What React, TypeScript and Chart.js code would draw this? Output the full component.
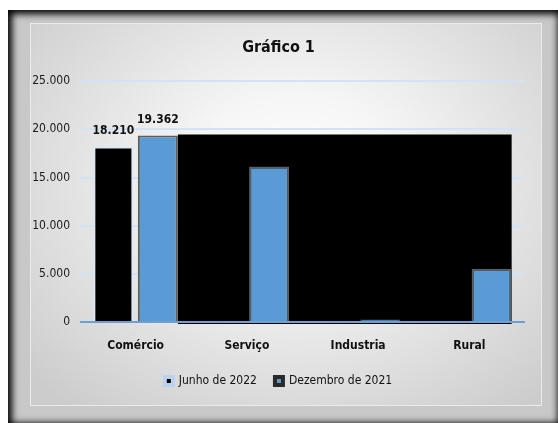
import React, { useEffect, useRef } from "react";
import { Chart, registerables } from "chart.js";
Chart.register(...registerables);

const categories = ["Comércio", "Serviço", "Industria", "Rural"];
const seriesNames = ["Junho de 2022", "Dezembro de 2021"];
const junho2022 = [18210, null, null, null];
const dezembro2021 = [19362, 16150, 250, 5520];
const yMin = 0;
const yMax = 25000;
const yStep = 5000;
const labelledCategory = 0;
const titleText = "Gráfico 1";

const FONT = "'DejaVu Sans Condensed', 'Liberation Sans Narrow', 'DejaVu Sans', sans-serif";

const fmt = (v: number) =>
  v === 0 ? "0" : String(Math.round(v)).replace(/\B(?=(\d{3})+(?!\d))/g, ".");

const blackBoxPlugin = {
  id: "blackBox",
  beforeDatasetsDraw(chart: any) {
    const meta = chart.getDatasetMeta(1);
    const first = meta.data[0];
    const last = meta.data[meta.data.length - 1];
    if (!first || !last) return;
    const y0 = chart.scales.y.getPixelForValue(0);
    const ctx = chart.ctx;
    ctx.save();
    ctx.fillStyle = "#000";
    const left = first.x + first.width / 2;
    const right = last.x + last.width / 2;
    const top = first.y - 1;
    ctx.fillRect(left, top, right - left, y0 + 2 - top);
    ctx.restore();
  },
  afterDatasetsDraw(chart: any) {
    const ctx = chart.ctx;
    const y0 = chart.scales.y.getPixelForValue(0);
    const { left, right } = chart.chartArea;
    ctx.save();
    ctx.strokeStyle = "#6e9fd3";
    ctx.lineWidth = 2;
    ctx.beginPath();
    ctx.moveTo(left, y0);
    ctx.lineTo(right, y0);
    ctx.stroke();
    ctx.fillStyle = "#111";
    ctx.font = `bold 12px ${FONT}`;
    ctx.textAlign = "center";
    ctx.textBaseline = "middle";
    chart.data.datasets.forEach((ds: any, i: number) => {
      const v = ds.data[labelledCategory];
      if (v == null) return;
      const el = chart.getDatasetMeta(i).data[labelledCategory];
      ctx.fillText(fmt(v), el.x, el.y - 16);
    });
    ctx.restore();
  },
};

function ChartCanvas() {
  const ref = useRef<HTMLCanvasElement>(null);
  useEffect(() => {
    if (!ref.current) return;
    const chart = new Chart(ref.current, {
      type: "bar",
      data: {
        labels: categories,
        datasets: [
          {
            label: seriesNames[0],
            data: junho2022,
            backgroundColor: "#000000",
            borderColor: "#dbe8f5",
            borderWidth: 2,
            barPercentage: 0.9,
            categoryPercentage: 0.8,
          },
          {
            label: seriesNames[1],
            data: dezembro2021,
            backgroundColor: "#5b9bd5",
            borderColor: "#5e5e5e",
            borderWidth: 2,
            barPercentage: 0.9,
            categoryPercentage: 0.8,
          },
        ],
      },
      options: {
        responsive: false,
        animation: false,
        layout: { padding: { left: 2, right: 17, top: 0, bottom: 9 } },
        plugins: {
          title: {
            display: true,
            text: titleText,
            color: "#111",
            font: { family: FONT, size: 16, weight: "bold" },
            padding: { top: 15, bottom: 24 },
          },
          legend: {
            position: "bottom",
            labels: {
              color: "#111",
              font: { family: FONT, size: 12 },
              boxWidth: 8,
              boxHeight: 8,
              padding: 18,
              generateLabels(chart: any) {
                const items = Chart.defaults.plugins.legend.labels.generateLabels(chart);
                items.forEach((it: any, i: number) => {
                  if (i === 0) {
                    it.fillStyle = "#000";
                    it.strokeStyle = "#b9d3ef";
                    it.lineWidth = 4;
                  } else {
                    it.fillStyle = "#5b9bd5";
                    it.strokeStyle = "#2a2a2a";
                    it.lineWidth = 4;
                  }
                });
                return items;
              },
            },
          },
          tooltip: { enabled: false },
        },
        scales: {
          x: {
            grid: { display: false },
            border: { display: false },
            ticks: {
              color: "#111",
              font: { family: FONT, size: 12, weight: "bold" },
              padding: 9,
            },
            afterFit(s: any) {
              s.height = 35;
            },
          },
          y: {
            min: yMin,
            max: yMax,
            border: { display: false },
            grid: {
              drawTicks: false,
              color: "#d3e3f3",
              lineWidth: 2,
            },
            ticks: {
              stepSize: yStep,
              padding: 10,
              color: "#1a1a1a",
              font: { family: FONT, size: 12 },
              callback: (v: any) => fmt(Number(v)),
            },
            afterFit(s: any) {
              s.width = 48;
            },
          },
        },
      },
      plugins: [blackBoxPlugin],
    });
    return () => chart.destroy();
  }, []);
  return <canvas ref={ref} width={512} height={383} style={{ display: "block" }} />;
}

export default function App() {
  return (
    <div
      style={{
        position: "fixed",
        left: 8,
        top: 10,
        width: 550,
        height: 413,
        overflow: "hidden",
      }}
    >
      <div
        style={{
          position: "absolute",
          left: 0,
          top: 0,
          width: 554,
          height: 417,
          background: "#c8c8c8",
          boxShadow: "inset 0 0 7px 4px #000",
        }}
      />
      <div
        style={{
          position: "absolute",
          left: 22,
          top: 13,
          width: 512,
          height: 383,
          background:
            "radial-gradient(ellipse 70% 75% at 52% 42%, #ffffff 0%, #f6f6f6 30%, #dedede 70%, #cccccc 100%)",
          boxShadow: "inset 0 0 0 1px #ebebeb",
        }}
      >
        <ChartCanvas />
      </div>
    </div>
  );
}
